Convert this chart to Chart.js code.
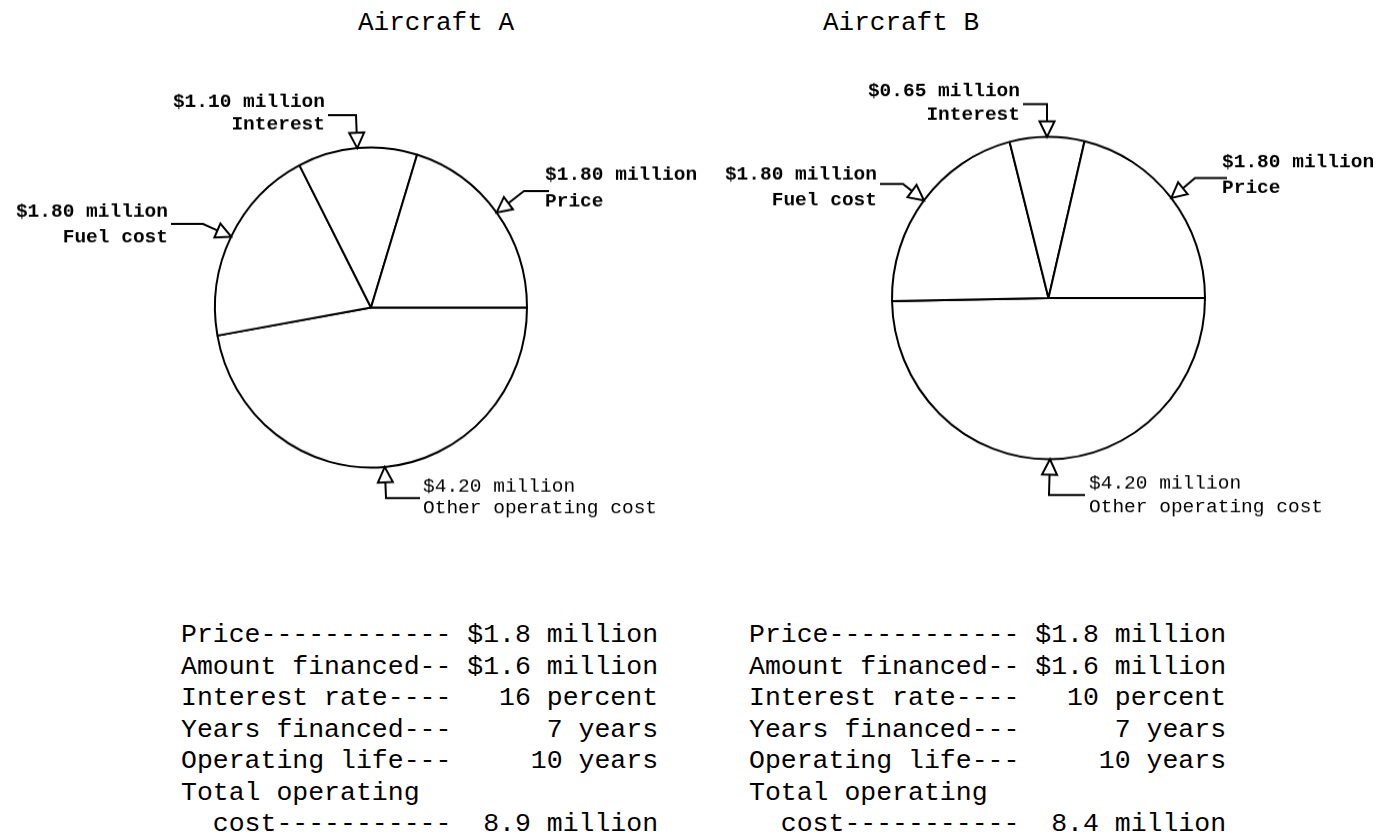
<!DOCTYPE html>
<html>
<head>
<meta charset="utf-8">
<script src="https://cdn.jsdelivr.net/npm/chart.js@4.4.1/dist/chart.umd.min.js"></script>
<style>
  html, body { margin: 0; padding: 0; background: #fff; }
  body { width: 1393px; height: 840px; position: relative; overflow: hidden; }
  .title { position: absolute; top: 10px; font-family: "Liberation Mono", monospace; font-size: 26px; line-height: 1; color: #000; white-space: pre; }
  .pie { position: absolute; top: 0; }
  .pie canvas { display: block; }
  .terms { position: absolute; top: 620px; font-family: "Liberation Mono", monospace; font-size: 26.5px; line-height: 31.5px; color: #000; white-space: pre; }
</style>
</head>
<body>
<div class="title" id="titleA" style="left:358px"></div>
<div class="title" id="titleB" style="left:823px"></div>
<div class="pie" id="pieA-wrap"><canvas id="pieA" width="720" height="600"></canvas></div>
<div class="pie" id="pieB-wrap"><canvas id="pieB" width="693" height="600"></canvas></div>
<div class="terms" id="termsA" style="left:181px"></div>
<div class="terms" id="termsB" style="left:749px"></div>

<script>
// slices in drawing order, clockwise from 3 o'clock
const categories = ['Other operating cost', 'Fuel cost', 'Interest', 'Price'];
const costsA = [4.20, 1.80, 1.10, 1.80];
const costsB = [4.20, 1.80, 0.65, 1.80];
const titles = ['Aircraft A', 'Aircraft B'];

const termsA = [
    'Price------------ $1.8 million',
    'Amount financed-- $1.6 million',
    'Interest rate----   16 percent',
    'Years financed---      7 years',
    'Operating life---     10 years',
    'Total operating',
    '  cost-----------  8.9 million'
];
const termsB = [
    'Price------------ $1.8 million',
    'Amount financed-- $1.6 million',
    'Interest rate----   10 percent',
    'Years financed---      7 years',
    'Operating life---     10 years',
    'Total operating',
    '  cost-----------  8.4 million'
];

// page placement of each pie and its callouts (page coordinates)
const layoutA = {
    left: 0, width: 720, height: 600, cx: 371, cy: 307.5, r: 156, sy: 1.026,
    callouts: [
        { x: 423, align: 'left', lines: [492, 513], bold: false, path: [[420, 498], [386, 498]] },
        { x: 168, align: 'right', lines: [217, 242], bold: true, path: [[171, 224], [203, 224]] },
        { x: 325, align: 'right', lines: [107, 130], bold: true, path: [[328, 115], [356, 115]] },
        { x: 545, align: 'left', lines: [180, 206], bold: true, path: [[549, 191], [524, 191]] }
    ]
};
const layoutB = {
    left: 700, width: 693, height: 600, cx: 1048.5, cy: 298, r: 156.5, sy: 1.03,
    callouts: [
        { x: 1089, align: 'left', lines: [489, 512], bold: false, path: [[1085, 495], [1049, 495]] },
        { x: 877, align: 'right', lines: [180, 205], bold: true, path: [[880, 184], [903, 184]] },
        { x: 1020, align: 'right', lines: [96, 120], bold: true, path: [[1023, 104], [1047, 104]] },
        { x: 1222, align: 'left', lines: [167, 193], bold: true, path: [[1227, 178], [1195, 178]] }
    ]
};

function calloutPlugin(layout) {
    return {
        id: 'callouts',
        afterDatasetsDraw(chart) {
            const ctx = chart.ctx;
            const toX = X => X - layout.left;
            const toY = Y => layout.cy + (Y - layout.cy) / layout.sy;
            const values = chart.data.datasets[0].data;

            chart.getDatasetMeta(0).data.forEach((arc, i) => {
                const p = arc.getProps(['x', 'y', 'startAngle', 'endAngle', 'outerRadius'], true);
                const mid = (p.startAngle + p.endAngle) / 2;
                const ax = p.x + Math.cos(mid) * p.outerRadius;
                const ay = p.y + Math.sin(mid) * p.outerRadius;
                const c = layout.callouts[i];
                const pts = c.path.map(([X, Y]) => [toX(X), toY(Y)]);
                const [ex, ey] = pts[pts.length - 1];
                const len = Math.hypot(ax - ex, ay - ey);
                const ux = (ax - ex) / len, uy = (ay - ey) / len;
                const h = 15, w = 15;
                const bx = ax - ux * h, by = ay - uy * h;

                ctx.save();
                ctx.strokeStyle = '#000';
                ctx.lineWidth = 2;
                ctx.lineJoin = 'miter';

                // leader line
                ctx.beginPath();
                ctx.moveTo(pts[0][0], pts[0][1]);
                pts.slice(1).forEach(([x, y]) => ctx.lineTo(x, y));
                ctx.lineTo(bx, by);
                ctx.stroke();

                // hollow arrow head touching the rim
                ctx.beginPath();
                ctx.moveTo(ax, ay);
                ctx.lineTo(bx - uy * w / 2, by + ux * w / 2);
                ctx.lineTo(bx + uy * w / 2, by - ux * w / 2);
                ctx.closePath();
                ctx.fillStyle = '#fff';
                ctx.fill();
                ctx.stroke();

                // label text
                ctx.fillStyle = '#000';
                ctx.font = (c.bold ? 'bold ' : '') + '19.5px "Liberation Mono", monospace';
                ctx.textAlign = c.align;
                ctx.textBaseline = 'alphabetic';
                const texts = ['$' + values[i].toFixed(2) + ' million', chart.data.labels[i]];
                texts.forEach((t, k) => {
                    ctx.save();
                    ctx.translate(toX(c.x), toY(c.lines[k]));
                    ctx.scale(1, 1 / layout.sy);
                    ctx.fillText(t, 0, 0);
                    ctx.restore();
                });
                ctx.restore();
            });
        }
    };
}

function buildPie(id, layout, values) {
    const s = 2 * layout.r + 2;
    const lx = layout.cx - layout.left;
    const padding = {
        left: lx - s / 2,
        top: layout.cy - s / 2,
        right: layout.width - (lx + s / 2),
        bottom: layout.height - (layout.cy + s / 2)
    };
    const wrap = document.getElementById(id + '-wrap');
    wrap.style.left = layout.left + 'px';
    wrap.style.transformOrigin = lx + 'px ' + layout.cy + 'px';
    wrap.style.transform = 'scaleY(' + layout.sy + ')';

    new Chart(document.getElementById(id), {
        type: 'pie',
        data: {
            labels: categories,
            datasets: [{
                data: values,
                backgroundColor: '#fff',
                borderColor: '#000',
                borderWidth: 2,
                hoverBorderWidth: 2,
                borderAlign: 'center'
            }]
        },
        options: {
            responsive: false,
            animation: false,
            rotation: 90,
            events: [],
            layout: { padding },
            plugins: {
                legend: { display: false },
                tooltip: { enabled: false }
            }
        },
        plugins: [calloutPlugin(layout)]
    });
}

document.getElementById('titleA').textContent = titles[0];
document.getElementById('titleB').textContent = titles[1];
document.getElementById('termsA').textContent = termsA.join('\n');
document.getElementById('termsB').textContent = termsB.join('\n');

buildPie('pieA', layoutA, costsA);
buildPie('pieB', layoutB, costsB);
</script>
</body>
</html>
